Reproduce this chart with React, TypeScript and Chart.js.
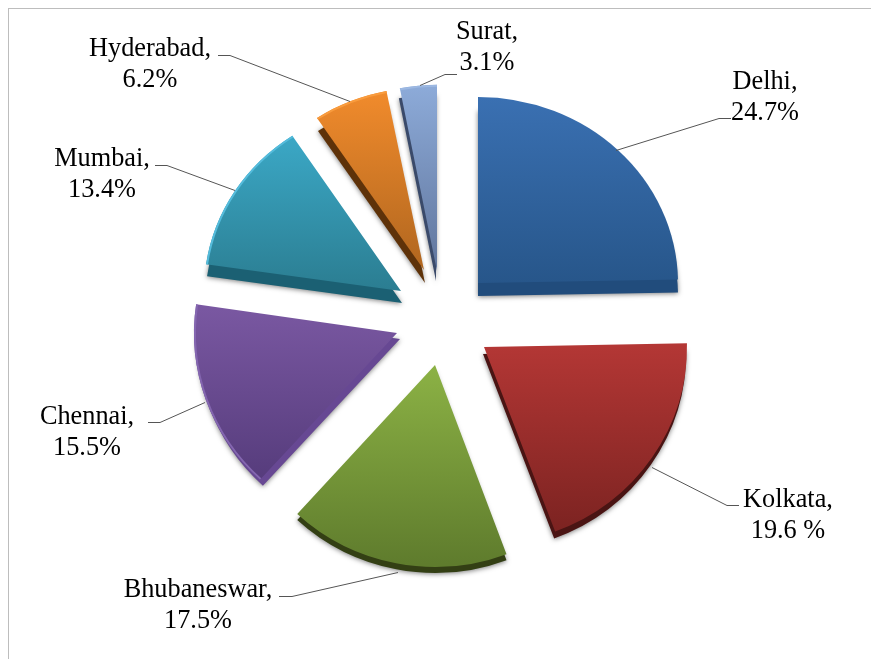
import React, { useEffect, useRef } from "react";
import { Chart, registerables } from "chart.js";

Chart.register(...registerables);

const cities = ["Delhi", "Kolkata", "Bhubaneswar", "Chennai", "Mumbai", "Hyderabad", "Surat"];
const shares = [24.7, 19.6, 17.5, 15.5, 13.4, 6.2, 3.1];
const shareLabels = ["24.7%", "19.6 %", "17.5%", "15.5%", "13.4%", "6.2%", "3.1%"];

const topColors = ["#3a70b2", "#b43735", "#8cb245", "#7a58a2", "#3ba8c6", "#f18b2c", "#8dabd9"];
const bottomColors = ["#27568a", "#7c2321", "#5f7c2d", "#563c7c", "#2b7d91", "#b0661f", "#60759c"];
const rimColors = ["#214c7c", "#4a1413", "#333f14", "#674893", "#1b6073", "#5e3209", "#3a4a6a"];
const edgeColors = [null, null, null, "#8466b0", "#55bcdc", "#f99c3e", "#9cb8e2"];

// Exploded-pie look: how far each slice moves from the pie centre, its size and tilt
const shiftX = [34, 40, -9, -47, -43, -20, -7];
const shiftY = [-41, 23, 41, 9, -33, -54, -53];
const sizeScale = [1, 1.015, 1.02, 1.015, 0.985, 0.97, 0.96];
const tilt = [0.93, 0.97, 0.99, 0.98, 0.945, 0.94, 0.97];
const rimDepth = [13, 7, 6, 6, 12, 13, 10];
const rimSide = [0, -1, 0, 3, 1, 1, -1];

// Callout layout: label centre x, first-line baseline y, leader polyline
const callouts = [
  { cx: 765, y: 89, line: [[616, 150], [719, 118], [731, 118]] },
  { cx: 788, y: 507, line: [[652, 467], [727, 505], [739, 505]] },
  { cx: 198, y: 597, line: [[398, 572], [292, 596], [279, 596]] },
  { cx: 87, y: 424, line: [[205, 402], [160, 422], [148, 422]] },
  { cx: 102, y: 166, line: [[235, 190], [167, 165], [155, 165]] },
  { cx: 150, y: 56, line: [[350, 101], [230, 55], [218, 55]] },
  { cx: 487, y: 39, line: [[420, 85], [445, 74], [457, 74]] },
];

const slicePlugin = {
  id: "slices",
  beforeDatasetDraw(chart: any, args: any) {
    const ctx = chart.ctx;
    const arcs = args.meta.data;
    arcs.forEach((arc: any, i: number) => {
      const orig = arc.options;
      const baseRadius = arc.outerRadius;
      const r = baseRadius * sizeScale[i];
      arc.outerRadius = r;
      const place = (ox: number, oy: number) => {
        ctx.translate(arc.x + shiftX[i] + ox, arc.y + shiftY[i] + oy);
        ctx.scale(1, tilt[i]);
        ctx.translate(-arc.x, -arc.y);
      };

      // rim and soft shadow
      ctx.save();
      place(rimSide[i], rimDepth[i]);
      ctx.shadowColor = "rgba(0,0,0,0.5)";
      ctx.shadowBlur = 5;
      ctx.shadowOffsetY = 1;
      arc.options = Object.create(orig, { backgroundColor: { value: rimColors[i] } });
      arc.draw(ctx);
      ctx.restore();

      // lit face
      ctx.save();
      place(0, 0);
      const mid = (arc.startAngle + arc.endAngle) / 2;
      const ys = [arc.startAngle, arc.endAngle, mid].map((a: number) => arc.y + Math.sin(a) * r);
      ys.push(arc.y);
      const top = Math.min(...ys);
      const bot = Math.max(...ys);
      const grad = ctx.createLinearGradient(0, top, 0, bot);
      grad.addColorStop(0, topColors[i]);
      grad.addColorStop(1, bottomColors[i]);
      arc.options = Object.create(orig, { backgroundColor: { value: grad } });
      arc.draw(ctx);
      arc.options = orig;

      // light bevel on the outer edge
      if (edgeColors[i]) {
        ctx.beginPath();
        ctx.arc(arc.x, arc.y, r - 1, arc.startAngle, arc.endAngle);
        ctx.strokeStyle = edgeColors[i];
        ctx.lineWidth = 2;
        ctx.stroke();
      }
      ctx.restore();
      arc.outerRadius = baseRadius;
    });
    return false;
  },
  afterDraw(chart: any) {
    const ctx = chart.ctx;
    ctx.save();
    ctx.font = '26.3px "Liberation Serif"';
    ctx.fillStyle = "#000000";
    ctx.textAlign = "center";
    ctx.textBaseline = "alphabetic";
    ctx.strokeStyle = "#555555";
    ctx.lineWidth = 1;
    callouts.forEach((c, i) => {
      ctx.beginPath();
      c.line.forEach(([x, y], k) => (k ? ctx.lineTo(x, y + 0.5) : ctx.moveTo(x, y + 0.5)));
      ctx.stroke();
      ctx.fillText(cities[i] + ",", c.cx, c.y);
      ctx.fillText(shareLabels[i], c.cx, c.y + 31);
    });
    ctx.restore();
  },
};

export default function App() {
  const ref = useRef<HTMLCanvasElement>(null);
  useEffect(() => {
    const chart = new Chart(ref.current as HTMLCanvasElement, {
      type: "pie",
      data: {
        labels: cities,
        datasets: [{ data: shares, backgroundColor: topColors, borderWidth: 0 } as any],
      },
      options: {
        animation: false,
        responsive: false,
        radius: 200,
        layout: { padding: { left: 17, right: 0, top: 0, bottom: 11 } },
        plugins: { legend: { display: false }, tooltip: { enabled: false } },
      } as any,
      plugins: [slicePlugin],
    });
    return () => chart.destroy();
  }, []);
  return (
    <div>
      <div
        style={{
          position: "absolute",
          left: 8,
          top: 8,
          width: 863,
          height: 651,
          boxSizing: "border-box",
          borderLeft: "1px solid #bdbdbd",
          borderTop: "1px solid #bdbdbd",
        }}
      />
      <canvas ref={ref} width={871} height={659} style={{ position: "absolute", left: 0, top: 0 }} />
    </div>
  );
}
